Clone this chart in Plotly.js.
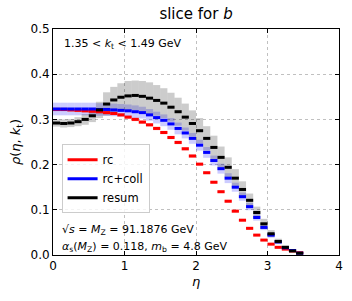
<!DOCTYPE html>
<html>
<head>
<meta charset="utf-8">
<script src="https://cdn.plot.ly/plotly-3.0.1.min.js"></script>
<style>html,body{margin:0;padding:0;background:#fff;}#chart{width:352px;height:301px;}</style>
</head>
<body>
<div id="chart"></div>
<script>
// bin edges in eta (bins of width 0.1)
const etaEdges = [0.0,0.1,0.2,0.3,0.4,0.5,0.6,0.7,0.8,0.9,1.0,1.1,1.2,1.3,1.4,1.5,1.6,1.7,1.8,1.9,2.0,2.1,2.2,2.3,2.4,2.5,2.6,2.7,2.8,2.9,3.0,3.1,3.2,3.3,3.4,3.5];

const rcVals = [0.322,0.322,0.321,0.320,0.319,0.318,0.317,0.315,0.313,0.310,0.305,0.300,0.294,0.288,0.280,0.271,0.260,0.249,0.235,0.219,0.201,0.182,0.161,0.140,0.119,0.097,0.077,0.059,0.044,0.033,0.024,0.017,0.013,0.009,0.005];
const rcErr  = [0.004,0.004,0.004,0.004,0.004,0.004,0.004,0.004,0.004,0.004,0.004,0.004,0.004,0.004,0.004,0.004,0.004,0.004,0.004,0.004,0.003,0.003,0.003,0.003,0.003,0.003,0.002,0.002,0.002,0.002,0.002,0.001,0.001,0.001,0.001];

const collVals = [0.323,0.323,0.323,0.323,0.323,0.323,0.322,0.322,0.321,0.320,0.319,0.317,0.315,0.310,0.304,0.298,0.290,0.280,0.270,0.258,0.243,0.227,0.209,0.191,0.170,0.150,0.129,0.107,0.083,0.061,0.044,0.029,0.016,0.010,0.004];
const collErr  = [0.014,0.014,0.014,0.014,0.014,0.014,0.014,0.014,0.014,0.014,0.014,0.014,0.013,0.013,0.013,0.013,0.013,0.013,0.012,0.012,0.012,0.012,0.011,0.011,0.011,0.010,0.009,0.008,0.007,0.006,0.005,0.004,0.003,0.002,0.001];

const resumVals = [0.292,0.291,0.292,0.295,0.300,0.308,0.321,0.334,0.343,0.349,0.352,0.353,0.351,0.347,0.342,0.336,0.327,0.317,0.305,0.291,0.275,0.258,0.238,0.216,0.194,0.170,0.145,0.121,0.094,0.069,0.047,0.030,0.017,0.009,0.004];
const resumErr  = [0.008,0.009,0.009,0.010,0.012,0.014,0.018,0.026,0.029,0.031,0.033,0.033,0.034,0.035,0.034,0.033,0.032,0.031,0.030,0.029,0.028,0.027,0.026,0.024,0.022,0.020,0.018,0.015,0.013,0.011,0.008,0.006,0.004,0.003,0.002];

const seriesNames = ['rc','rc+coll','resum'];

function stepLine(vals){
  const x=[], y=[];
  for(let i=0;i<vals.length;i++){
    x.push(etaEdges[i], etaEdges[i+1], null);
    y.push(vals[i], vals[i], null);
  }
  return {x, y};
}
function band(vals, errs, color){
  const xc=[], base=[], h=[], w=[];
  for(let i=0;i<vals.length;i++){
    xc.push((etaEdges[i]+etaEdges[i+1])/2);
    base.push(vals[i]-errs[i]);
    h.push(2*errs[i]);
    w.push(etaEdges[i+1]-etaEdges[i]);
  }
  return {type:'bar', x:xc, y:h, base:base, width:w, marker:{color:color, line:{width:0}},
          showlegend:false, hoverinfo:'skip'};
}
function line(vals, color, name){
  const s = stepLine(vals);
  return {type:'scatter', mode:'lines', x:s.x, y:s.y, name:name,
          line:{color:color, width:3}, hoverinfo:'skip'};
}

const data = [
  band(rcVals, rcErr, 'rgba(255,0,0,0.2)'),
  line(rcVals, '#ff0000', seriesNames[0]),
  band(collVals, collErr, 'rgba(0,0,255,0.2)'),
  line(collVals, '#0000ff', seriesNames[1]),
  band(resumVals, resumErr, 'rgba(0,0,0,0.2)'),
  line(resumVals, '#000000', seriesNames[2])
];

const axisCommon = {
  showline:true, linecolor:'#000', linewidth:1, mirror:'ticks',
  ticks:'inside', ticklen:4, tickwidth:1, tickcolor:'#000',
  showgrid:true, gridcolor:'#b0b0b0', griddash:'dot', gridwidth:0.8,
  zeroline:false, tickfont:{size:12, color:'#000'}
};

const layout = {
  width:352, height:301,
  margin:{l:53, r:13, t:29, b:46},
  paper_bgcolor:'#fff', plot_bgcolor:'#fff',
  font:{family:'DejaVu Sans', color:'#000', size:11},
  barmode:'overlay',
  title:{text:'slice for <i>b</i>', font:{size:15}, x:0.557, xanchor:'center', y:0.955, yanchor:'middle'},
  xaxis:Object.assign({}, axisCommon, {range:[0,4], dtick:1, tick0:0,
    title:{text:'<i>η</i>', font:{size:13}, standoff:4}}),
  yaxis:Object.assign({}, axisCommon, {range:[0,0.5], dtick:0.1, tick0:0, tickformat:'.1f',
    title:{text:'<i>ρ</i>(<i>η</i>, <i>k</i><sub>t</sub>)', font:{size:13}, standoff:6}}),
  legend:{x:0.03, y:0.49, xanchor:'left', yanchor:'top', bgcolor:'rgba(255,255,255,0.8)',
    bordercolor:'#cccccc', borderwidth:1, font:{size:11.5}, traceorder:'normal', itemwidth:30,
    tracegroupgap:0},
  showlegend:true,
  annotations:[
    {xref:'paper', yref:'paper', x:0.03, y:0.975, xanchor:'left', yanchor:'top', showarrow:false,
     text:'1.35 &lt; <i>k</i><sub>t</sub> &lt; 1.49 GeV', font:{size:11}},
    {xref:'paper', yref:'paper', x:0.025, y:0.07, xanchor:'left', yanchor:'bottom', showarrow:false,
     text:'√<i>s</i> = <i>M</i><sub>Z</sub> = 91.1876 GeV', font:{size:11}},
    {xref:'paper', yref:'paper', x:0.025, y:-0.005, xanchor:'left', yanchor:'bottom', showarrow:false,
     text:'<i>α</i><sub>s</sub>(<i>M</i><sub>Z</sub>) = 0.118, <i>m</i><sub>b</sub> = 4.8 GeV', font:{size:11}}
  ]
};

Plotly.newPlot('chart', data, layout, {displayModeBar:false, staticPlot:true});
</script>
</body>
</html>
